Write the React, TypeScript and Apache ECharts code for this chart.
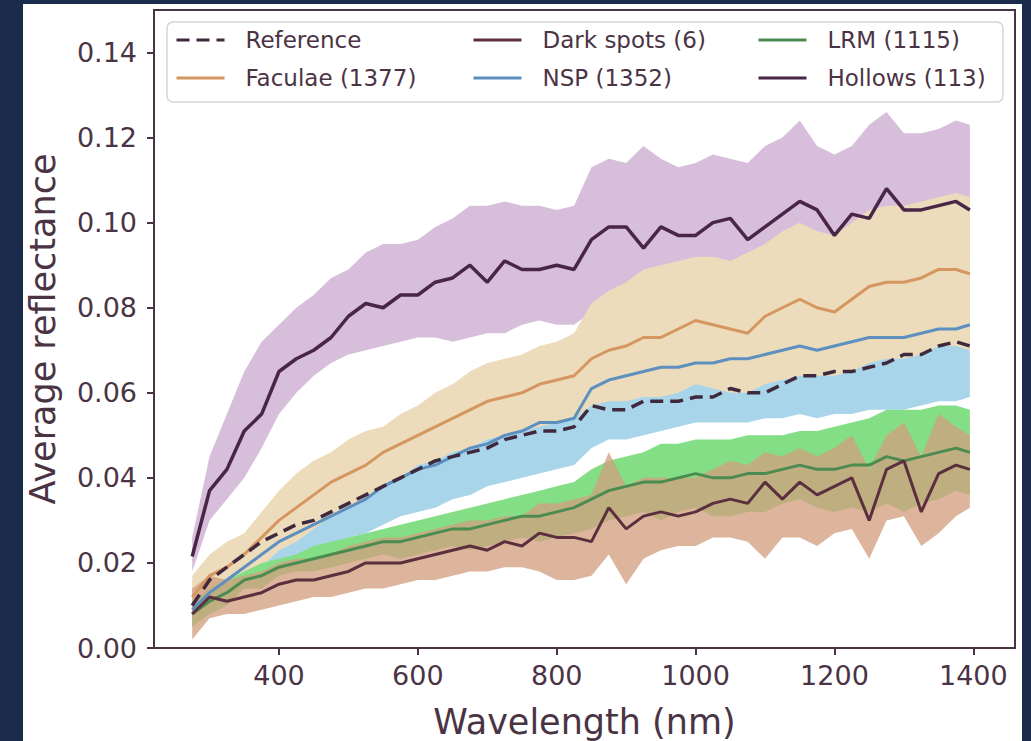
import React, { useEffect, useRef } from "react";
import * as echarts from "echarts";

// Wavelength samples (nm)
const WAVELENGTH = [275, 300, 325, 350, 375, 400, 425, 450, 475, 500, 525, 550, 575, 600, 625, 650, 675, 700, 725, 750, 775, 800, 825, 850, 875, 900, 925, 950, 975, 1000, 1025, 1050, 1075, 1100, 1125, 1150, 1175, 1200, 1225, 1250, 1275, 1300, 1325, 1350, 1375, 1395];

const REFERENCE = [0.010, 0.016, 0.019, 0.022, 0.025, 0.027, 0.029, 0.030, 0.032, 0.034, 0.036, 0.038, 0.040, 0.042, 0.044, 0.045, 0.046, 0.047, 0.049, 0.050, 0.051, 0.051, 0.052, 0.057, 0.056, 0.056, 0.058, 0.058, 0.058, 0.059, 0.059, 0.061, 0.060, 0.060, 0.062, 0.064, 0.064, 0.065, 0.065, 0.066, 0.067, 0.069, 0.069, 0.071, 0.072, 0.071];

const FACULAE_MEAN = [0.012, 0.017, 0.019, 0.022, 0.026, 0.030, 0.033, 0.036, 0.039, 0.041, 0.043, 0.046, 0.048, 0.050, 0.052, 0.054, 0.056, 0.058, 0.059, 0.060, 0.062, 0.063, 0.064, 0.068, 0.070, 0.071, 0.073, 0.073, 0.075, 0.077, 0.076, 0.075, 0.074, 0.078, 0.080, 0.082, 0.080, 0.079, 0.082, 0.085, 0.086, 0.086, 0.087, 0.089, 0.089, 0.088];
const FACULAE_LOW = [0.005, 0.011, 0.013, 0.016, 0.019, 0.023, 0.025, 0.028, 0.031, 0.033, 0.035, 0.038, 0.040, 0.043, 0.044, 0.046, 0.047, 0.049, 0.050, 0.051, 0.052, 0.053, 0.054, 0.057, 0.058, 0.058, 0.059, 0.059, 0.060, 0.062, 0.061, 0.060, 0.060, 0.062, 0.063, 0.064, 0.064, 0.064, 0.065, 0.067, 0.068, 0.068, 0.069, 0.071, 0.071, 0.070];
const FACULAE_HIGH = [0.017, 0.022, 0.025, 0.027, 0.032, 0.037, 0.041, 0.044, 0.046, 0.049, 0.051, 0.052, 0.055, 0.057, 0.060, 0.062, 0.065, 0.067, 0.068, 0.069, 0.071, 0.072, 0.074, 0.081, 0.084, 0.086, 0.089, 0.090, 0.091, 0.092, 0.092, 0.091, 0.093, 0.095, 0.098, 0.100, 0.098, 0.097, 0.100, 0.103, 0.104, 0.104, 0.105, 0.106, 0.107, 0.106];

const NSP_MEAN = [0.009, 0.013, 0.016, 0.019, 0.022, 0.025, 0.027, 0.029, 0.031, 0.033, 0.035, 0.038, 0.040, 0.042, 0.043, 0.045, 0.047, 0.048, 0.050, 0.051, 0.053, 0.053, 0.054, 0.061, 0.063, 0.064, 0.065, 0.066, 0.066, 0.067, 0.067, 0.068, 0.068, 0.069, 0.070, 0.071, 0.070, 0.071, 0.072, 0.073, 0.073, 0.073, 0.074, 0.075, 0.075, 0.076];
const NSP_LOW = [0.006, 0.010, 0.012, 0.014, 0.017, 0.019, 0.021, 0.022, 0.024, 0.026, 0.027, 0.029, 0.031, 0.032, 0.033, 0.035, 0.036, 0.038, 0.039, 0.040, 0.041, 0.042, 0.043, 0.047, 0.049, 0.049, 0.050, 0.051, 0.052, 0.053, 0.053, 0.053, 0.053, 0.054, 0.054, 0.055, 0.054, 0.055, 0.055, 0.056, 0.056, 0.056, 0.057, 0.058, 0.058, 0.059];
const NSP_HIGH = [0.014, 0.016, 0.020, 0.024, 0.027, 0.031, 0.033, 0.036, 0.038, 0.040, 0.043, 0.047, 0.049, 0.052, 0.053, 0.055, 0.058, 0.058, 0.061, 0.062, 0.065, 0.064, 0.065, 0.075, 0.077, 0.079, 0.080, 0.081, 0.080, 0.081, 0.081, 0.083, 0.083, 0.084, 0.086, 0.087, 0.086, 0.087, 0.089, 0.090, 0.090, 0.090, 0.091, 0.092, 0.092, 0.093];

const LRM_MEAN = [0.008, 0.011, 0.013, 0.016, 0.017, 0.019, 0.020, 0.021, 0.022, 0.023, 0.024, 0.025, 0.025, 0.026, 0.027, 0.028, 0.028, 0.029, 0.030, 0.031, 0.031, 0.032, 0.033, 0.035, 0.037, 0.038, 0.039, 0.039, 0.040, 0.041, 0.040, 0.040, 0.041, 0.041, 0.042, 0.043, 0.042, 0.042, 0.043, 0.043, 0.045, 0.044, 0.045, 0.046, 0.047, 0.046];
const LRM_LOW = [0.005, 0.008, 0.010, 0.014, 0.014, 0.017, 0.018, 0.018, 0.019, 0.020, 0.021, 0.022, 0.021, 0.022, 0.023, 0.024, 0.023, 0.024, 0.025, 0.026, 0.025, 0.026, 0.027, 0.028, 0.030, 0.031, 0.032, 0.030, 0.032, 0.033, 0.031, 0.031, 0.032, 0.032, 0.034, 0.035, 0.033, 0.032, 0.033, 0.032, 0.034, 0.032, 0.034, 0.035, 0.037, 0.036];
const LRM_HIGH = [0.011, 0.014, 0.016, 0.018, 0.020, 0.021, 0.022, 0.024, 0.025, 0.026, 0.027, 0.028, 0.029, 0.030, 0.031, 0.032, 0.033, 0.034, 0.035, 0.036, 0.037, 0.038, 0.039, 0.042, 0.044, 0.045, 0.046, 0.048, 0.048, 0.049, 0.049, 0.049, 0.050, 0.050, 0.050, 0.051, 0.051, 0.052, 0.053, 0.054, 0.056, 0.056, 0.056, 0.057, 0.057, 0.056];

const DARK_MEAN = [0.008, 0.012, 0.011, 0.012, 0.013, 0.015, 0.016, 0.016, 0.017, 0.018, 0.020, 0.020, 0.020, 0.021, 0.022, 0.023, 0.024, 0.023, 0.025, 0.024, 0.027, 0.026, 0.026, 0.025, 0.033, 0.028, 0.031, 0.032, 0.031, 0.032, 0.034, 0.035, 0.034, 0.039, 0.035, 0.039, 0.036, 0.038, 0.040, 0.030, 0.042, 0.044, 0.032, 0.041, 0.043, 0.042];
const DARK_LOW = [0.002, 0.007, 0.008, 0.008, 0.009, 0.010, 0.011, 0.012, 0.012, 0.013, 0.014, 0.014, 0.015, 0.016, 0.016, 0.017, 0.018, 0.018, 0.019, 0.019, 0.018, 0.016, 0.016, 0.017, 0.022, 0.015, 0.021, 0.023, 0.024, 0.024, 0.026, 0.026, 0.025, 0.021, 0.026, 0.026, 0.024, 0.027, 0.028, 0.021, 0.030, 0.031, 0.024, 0.027, 0.031, 0.033];
const DARK_HIGH = [0.014, 0.017, 0.016, 0.017, 0.018, 0.020, 0.021, 0.021, 0.022, 0.024, 0.025, 0.026, 0.026, 0.027, 0.028, 0.029, 0.030, 0.030, 0.031, 0.031, 0.034, 0.034, 0.035, 0.036, 0.046, 0.038, 0.040, 0.040, 0.040, 0.040, 0.042, 0.044, 0.043, 0.046, 0.045, 0.047, 0.045, 0.047, 0.050, 0.042, 0.050, 0.053, 0.045, 0.055, 0.052, 0.050];

const HOLLOWS_MEAN = [0.0215, 0.037, 0.042, 0.051, 0.055, 0.065, 0.068, 0.070, 0.073, 0.078, 0.081, 0.080, 0.083, 0.083, 0.086, 0.087, 0.090, 0.086, 0.091, 0.089, 0.089, 0.090, 0.089, 0.096, 0.099, 0.099, 0.094, 0.099, 0.097, 0.097, 0.100, 0.101, 0.096, 0.099, 0.102, 0.105, 0.103, 0.097, 0.102, 0.101, 0.108, 0.103, 0.103, 0.104, 0.105, 0.103];
const HOLLOWS_LOW = [0.018, 0.030, 0.035, 0.040, 0.047, 0.055, 0.060, 0.064, 0.067, 0.069, 0.070, 0.071, 0.072, 0.073, 0.073, 0.072, 0.073, 0.074, 0.074, 0.076, 0.077, 0.076, 0.076, 0.079, 0.081, 0.082, 0.080, 0.082, 0.082, 0.082, 0.084, 0.085, 0.081, 0.083, 0.085, 0.087, 0.086, 0.080, 0.085, 0.084, 0.089, 0.085, 0.085, 0.086, 0.087, 0.085];
const HOLLOWS_HIGH = [0.026, 0.045, 0.055, 0.065, 0.072, 0.076, 0.080, 0.083, 0.087, 0.089, 0.093, 0.095, 0.095, 0.096, 0.099, 0.101, 0.104, 0.104, 0.105, 0.104, 0.104, 0.103, 0.104, 0.113, 0.115, 0.114, 0.118, 0.115, 0.113, 0.114, 0.116, 0.115, 0.114, 0.118, 0.120, 0.124, 0.118, 0.116, 0.118, 0.123, 0.126, 0.121, 0.121, 0.122, 0.124, 0.123];

const X_TICKS = [400, 600, 800, 1000, 1200, 1400];
const Y_TICKS = [0, 0.02, 0.04, 0.06, 0.08, 0.1, 0.12, 0.14];

const NAVY = "#1b2b4b";
const INK = "#4a3444";
const FONT = "DejaVu Sans";

function bandSeries(name: string, low: number[], high: number[], color: string) {
  return {
    type: "custom",
    name,
    silent: true,
    z: 1,
    clip: true,
    data: WAVELENGTH.map((x, i) => [x, low[i], high[i]]),
    encode: { x: 0, y: [1, 2] },
    renderItem: (params: any, api: any) => {
      if (params.dataIndex !== 0) return null;
      const top = WAVELENGTH.map((x, i) => api.coord([x, high[i]]));
      const bottom = WAVELENGTH.map((x, i) => api.coord([x, low[i]])).reverse();
      return {
        type: "polygon",
        shape: { points: top.concat(bottom) },
        style: { fill: color },
      };
    },
  };
}

function lineSeries(name: string, values: number[], color: string, width: number, dashed = false) {
  return {
    type: "line",
    name,
    z: 2,
    symbol: "none",
    data: WAVELENGTH.map((x, i) => [x, values[i]]),
    lineStyle: { color, width, type: dashed ? [13, 7] : "solid" },
    itemStyle: { color },
  };
}

function legendBlock(left: number, names: string[]) {
  return {
    left,
    top: 27,
    orient: "vertical",
    padding: 0,
    itemWidth: 48,
    itemHeight: 14,
    itemGap: 12,
    data: names,
    itemStyle: { opacity: 0 },
    lineStyle: { width: 3 },
    textStyle: {
      fontSize: 23,
      color: INK,
      fontFamily: FONT,
      lineHeight: 26,
      padding: [0, 0, 0, 16],
    },
  };
}

export default function App() {
  const ref = useRef<HTMLDivElement>(null);

  useEffect(() => {
    if (!ref.current) return;
    const chart = echarts.init(ref.current, null, { renderer: "svg" });
    const option: any = {
      animation: false,
      backgroundColor: "transparent",
      textStyle: { fontFamily: FONT },
      grid: {
        left: 154,
        right: 16,
        top: 10,
        bottom: 93,
        show: true,
        backgroundColor: "#ffffff",
        borderColor: INK,
        borderWidth: 2,
        outerBoundsMode: "none",
      },
      xAxis: {
        type: "value",
        min: 220,
        max: 1460,
        name: "Wavelength (nm)",
        nameLocation: "middle",
        nameGap: 56,
        nameTextStyle: { fontSize: 35, color: INK, fontFamily: FONT },
        axisLine: { show: true, lineStyle: { color: INK, width: 2 } },
        axisTick: { show: true, length: 7, lineStyle: { color: INK, width: 2 }, customValues: X_TICKS },
        axisLabel: {
          fontSize: 27,
          color: INK,
          fontFamily: FONT,
          margin: 14,
          customValues: X_TICKS,
          formatter: (v: number) => String(v),
        },
        splitLine: { show: false },
      },
      yAxis: {
        type: "value",
        min: 0,
        max: 0.15,
        name: "Average reflectance",
        nameLocation: "middle",
        nameGap: 94,
        nameTextStyle: { fontSize: 35, color: INK, fontFamily: FONT },
        axisLine: { show: true, lineStyle: { color: INK, width: 2 } },
        axisTick: { show: true, length: 7, lineStyle: { color: INK, width: 2 }, customValues: Y_TICKS },
        axisLabel: {
          fontSize: 27,
          color: INK,
          fontFamily: FONT,
          margin: 17,
          customValues: Y_TICKS,
          formatter: (v: number) => v.toFixed(2),
        },
        splitLine: { show: false },
      },
      graphic: [
        {
          type: "rect",
          z: 3,
          shape: { x: 167, y: 22, width: 836, height: 80, r: 6 },
          style: { fill: "rgba(255,255,255,0.85)", stroke: "#d6d6d6", lineWidth: 1.5 },
          silent: true,
        },
      ],
      legend: [
        legendBlock(175, ["Reference", "Faculae (1377)"]),
        legendBlock(472, ["Dark spots (6)", "NSP (1352)"]),
        legendBlock(757, ["LRM (1115)", "Hollows (113)"]),
      ],
      series: [
        bandSeries("Hollows band", HOLLOWS_LOW, HOLLOWS_HIGH, "#d7bedb"),
        bandSeries("NSP band", NSP_LOW, NSP_HIGH, "#a9d5ea"),
        bandSeries("Faculae band", FACULAE_LOW, FACULAE_HIGH, "#ecdcbc"),
        bandSeries("LRM band", LRM_LOW, LRM_HIGH, "#84de86"),
        bandSeries("Dark spots band", DARK_LOW, DARK_HIGH, "rgba(210,159,126,0.77)"),
        lineSeries("Faculae (1377)", FACULAE_MEAN, "#d69660", 3),
        lineSeries("NSP (1352)", NSP_MEAN, "#5d8fbf", 3),
        lineSeries("LRM (1115)", LRM_MEAN, "#4b8b50", 3),
        lineSeries("Dark spots (6)", DARK_MEAN, "#5b2f3e", 3),
        lineSeries("Hollows (113)", HOLLOWS_MEAN, "#4a2646", 3.5),
        lineSeries("Reference", REFERENCE, "#3f2a3d", 3.5, true),
      ],
    };
    chart.setOption(option);
    return () => chart.dispose();
  }, []);

  return (
    <div style={{ position: "fixed", left: 0, top: 0, width: 1031, height: 741, background: NAVY, overflow: "hidden" }}>
      <div style={{ position: "absolute", left: 23, top: 4, width: 999, height: 737, background: "#ffffff" }} />
      <div ref={ref} style={{ position: "absolute", left: 0, top: 0, width: 1031, height: 741 }} />
    </div>
  );
}
